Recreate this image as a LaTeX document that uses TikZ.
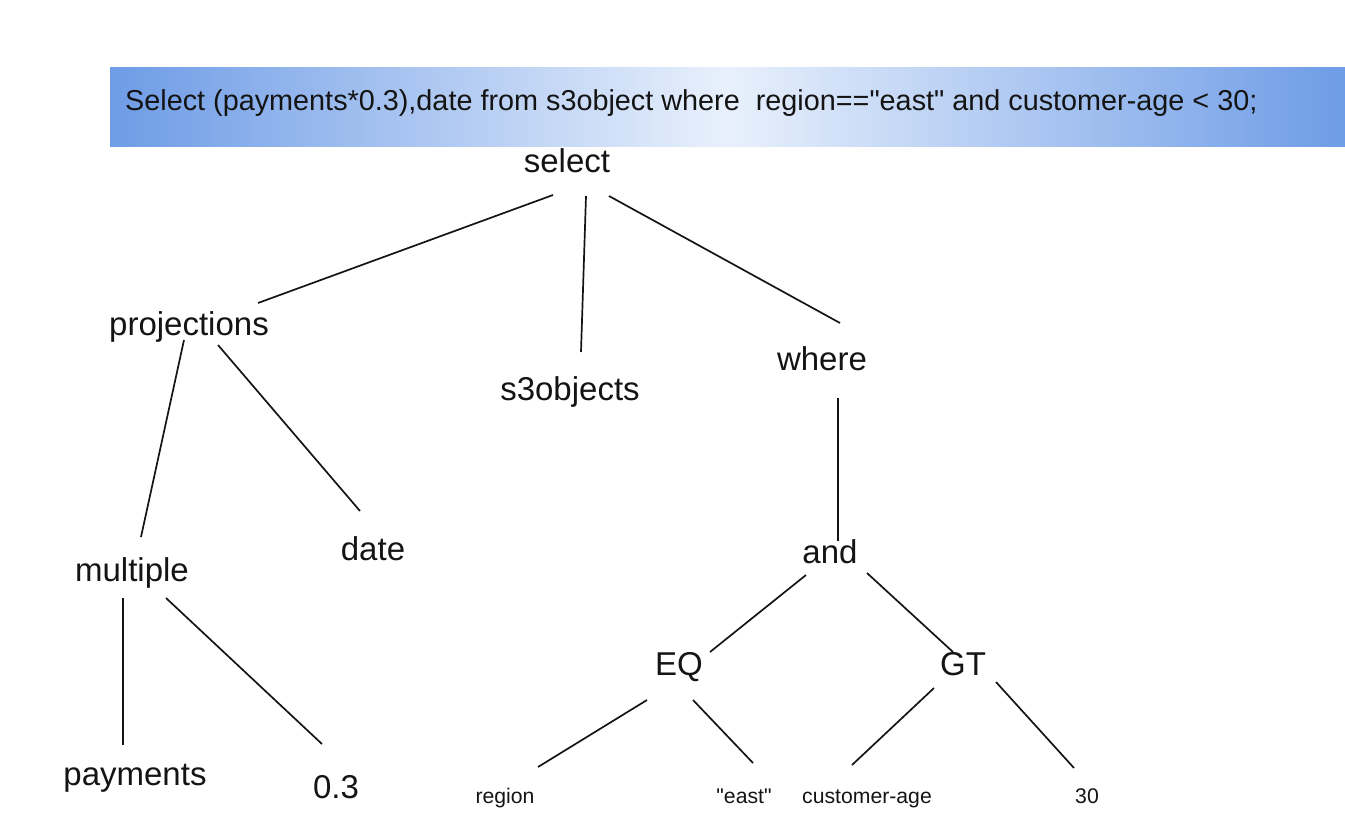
\documentclass[tikz,border=0pt]{standalone}
\usepackage{fontspec}
\setmainfont{Liberation Sans}
\newfontfamily\qfont{Liberation Sans}
\newcommand{\dq}{{\qfont"}}
\definecolor{bannerblue}{RGB}{110,156,230}
\definecolor{bannerlight}{RGB}{232,240,252}
\definecolor{inkc}{RGB}{20,20,20}
\begin{document}
\begin{tikzpicture}[x=1pt,y=-1pt,
  big/.style={inner sep=0pt,anchor=base,font=\fontsize{33}{38}\selectfont,text=inkc},
  small/.style={inner sep=0pt,anchor=base,font=\fontsize{21.2}{25}\selectfont,text=inkc},
  edge/.style={draw=inkc,line width=1.7pt}]
\useasboundingbox (0,0) rectangle (1345,828);
\shade[left color=bannerblue,right color=bannerblue,middle color=bannerlight] (110,67) rectangle (1345,146);
\node[inner sep=0pt,anchor=base west,font=\fontsize{28.8}{34}\selectfont,text=inkc] (query) at (125,110)
  {Select (payments*0.3),date from s3object where\ \ region==\dq east\dq{} and customer-age < 30;};
\node[big] (select) at (567,172) {select};
\node[big] (projections) at (189,335) {projections};
\node[big] (s3objects) at (570,400) {s3objects};
\node[big] (where) at (822,370) {where};
\node[big] (multiple) at (132,581) {multiple};
\node[big] (date) at (373,560) {date};
\node[big] (and) at (830,563) {and};
\node[big] (EQ) at (679,675) {EQ};
\node[big] (GT) at (963,675) {GT};
\node[big] (payments) at (135,785) {payments};
\node[big] (pt3) at (336,798) {0.3};
\node[small] (region) at (505,803) {region};
\node[small] (east) at (744,803) {\dq east\dq};
\node[small] (custage) at (867,803) {customer-age};
\node[small] (thirty) at (1087,803) {30};
\draw[edge] ([shift={(-14,23)}]select.base) -- ([shift={(69,-32)}]projections.base);
\draw[edge] ([shift={(19,24)}]select.base) -- ([shift={(11,-48)}]s3objects.base);
\draw[edge] ([shift={(42,24)}]select.base) -- ([shift={(18,-47)}]where.base);
\draw[edge] ([shift={(-5,5)}]projections.base) -- ([shift={(9,-44)}]multiple.base);
\draw[edge] ([shift={(29,10)}]projections.base) -- ([shift={(-13,-49)}]date.base);
\draw[edge] ([shift={(16,28)}]where.base) -- ([shift={(8,-22)}]and.base);
\draw[edge] ([shift={(-9,17)}]multiple.base) -- ([shift={(-12,-40)}]payments.base);
\draw[edge] ([shift={(34,17)}]multiple.base) -- ([shift={(-14,-54)}]pt3.base);
\draw[edge] ([shift={(-24,12)}]and.base) -- ([shift={(31,-23)}]EQ.base);
\draw[edge] ([shift={(37,10)}]and.base) -- ([shift={(-10,-23)}]GT.base);
\draw[edge] ([shift={(-32,25)}]EQ.base) -- ([shift={(33,-36)}]region.base);
\draw[edge] ([shift={(14,25)}]EQ.base) -- ([shift={(9,-40)}]east.base);
\draw[edge] ([shift={(-29,13)}]GT.base) -- ([shift={(-15,-38)}]custage.base);
\draw[edge] ([shift={(33,7)}]GT.base) -- ([shift={(-13,-35)}]thirty.base);
\end{tikzpicture}
\end{document}
